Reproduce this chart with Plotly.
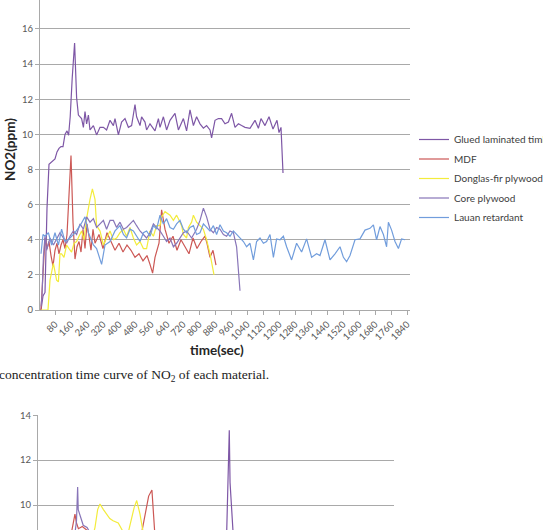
import plotly.graph_objects as go

# ---------------- data: upper chart (NO2) ----------------
names = ["Glued laminated timber", "MDF", "Donglas-fir plywood", "Core plywood", "Lauan retardant"]
colors = ["#7E57A6", "#CC5855", "#F3EC3C", "#8875B8", "#719DDC"]

glt_t = [10, 20, 30, 40, 50, 60, 70, 80, 90, 100, 110, 120, 130, 140, 148, 156, 166, 178, 188, 197,
         213, 222, 230, 238, 247, 255, 272, 288, 305, 322, 338, 355, 372, 380, 397, 413, 430, 447, 463,
         480, 488, 505, 513, 530, 538, 555, 580, 597, 605, 622, 638, 655, 680, 697, 722, 738, 755, 772,
         788, 805, 822, 838, 855, 863, 880, 897, 913, 930, 947, 963, 980, 997, 1013, 1030, 1055, 1080,
         1097, 1110, 1130, 1150, 1170, 1190, 1200, 1210, 1220]
glt_v = [0, 0.8, 1.0, 5.8, 8.3, 8.4, 8.5, 8.6, 9.0, 9.2, 9.3, 9.3, 10.0, 10.2, 9.95, 11.0, 13.2, 15.2, 12.1, 11.1,
         10.9, 10.4, 11.3, 10.6, 11.1, 10.25, 10.5, 9.97, 10.4, 10.4, 10.25, 10.8, 10.5, 10.9, 9.97, 10.7, 10.9, 10.4, 10.5,
         11.7, 11.0, 10.5, 11.0, 10.7, 10.25, 10.6, 10.2, 10.9, 10.4, 11.0, 10.25, 10.8, 11.2, 10.25, 10.9, 10.2, 11.4, 10.5,
         11.0, 10.6, 10.35, 10.5, 10.25, 9.8, 10.8, 10.9, 10.9, 10.6, 10.7, 11.2, 10.4, 10.6, 10.5, 10.4, 10.35, 10.8,
         10.35, 10.9, 10.5, 11.0, 10.3, 10.8, 10.1, 10.4, 7.8]

mdf_t = [10, 20, 30, 40, 50, 60, 70, 80, 90, 100, 110, 120, 130, 140, 150, 160, 170, 180, 190, 200, 210, 220,
         230, 240, 250, 260, 270, 280, 300, 320, 340, 360, 380, 400, 420, 440, 460, 480, 500, 520, 540, 555,
         568, 580, 600, 613, 630, 650, 670, 690, 710, 730, 750, 770, 790, 810, 830, 840, 855, 870, 885]
mdf_v = [0, 2.2, 4.1, 3.5, 3.9, 3.1, 2.5, 3.4, 3.8, 3.2, 3.7, 4.0, 3.5, 4.3, 6.4, 8.8, 5.0, 2.9, 3.6, 3.9, 3.3, 4.6,
         3.5, 4.9, 4.2, 3.4, 4.6, 3.8, 4.3, 3.5, 4.4, 3.9, 3.4, 3.8, 3.3, 3.7, 3.4, 3.0, 3.2, 2.8, 3.1, 2.6,
         2.1, 3.0, 3.8, 5.7, 4.6, 3.8, 4.2, 3.4, 4.0, 3.6, 3.2, 4.1, 3.5, 3.9, 4.2, 3.8, 3.0, 3.4, 2.55]

df_t = [10, 20, 30, 45, 55, 72, 88, 97, 105, 113, 125, 138, 150, 163, 175, 188, 200, 213, 225, 238, 255, 267,
        280, 288, 305, 322, 338, 355, 372, 388, 405, 422, 438, 455, 472, 488, 505, 522, 538, 555, 572, 588,
        605, 613, 630, 655, 672, 688, 697, 713, 722, 738, 747, 763, 772, 788, 805, 822, 838, 855, 875]
df_v = [0, 0, 0, 0, 1.7, 2.65, 1.7, 1.6, 3.2, 3.2, 3.0, 3.7, 3.5, 3.3, 3.8, 3.9, 4.2, 4.5, 4.0, 5.2, 6.3, 6.9,
        6.3, 4.8, 4.5, 3.7, 4.1, 4.5, 4.0, 4.1, 4.4, 4.6, 4.2, 4.7, 4.1, 3.7, 3.9, 3.5, 3.5, 4.5, 4.2, 4.8,
        4.8, 5.3, 5.6, 5.4, 5.1, 5.4, 5.2, 4.8, 4.3, 4.1, 4.7, 5.0, 5.4, 5.0, 4.8, 4.6, 4.0, 3.2, 2.0]

cp_t = [10, 15, 22, 30, 38, 55, 72, 88, 105, 122, 138, 155, 172, 188, 205, 222, 238, 255, 272, 288, 305, 322,
        338, 355, 372, 388, 405, 422, 438, 455, 472, 488, 505, 522, 538, 555, 572, 588, 605, 622, 638, 655,
        672, 688, 705, 722, 738, 763, 788, 805, 822, 838, 855, 872, 888, 905, 922, 938, 955, 972, 988, 1005]
cp_v = [0.2, 0.8, 3.0, 4.2, 3.4, 4.1, 3.7, 4.0, 4.4, 4.1, 3.8, 4.2, 4.5, 4.3, 4.9, 4.6, 5.3, 5.0, 5.2, 4.7, 4.9, 5.1,
        4.6, 5.1, 5.1, 4.7, 5.0, 4.6, 4.7, 4.9, 5.1, 4.8, 4.5, 4.3, 4.1, 4.4, 4.9, 4.7, 4.5, 4.2, 3.9, 4.1,
        3.6, 3.8, 4.1, 4.4, 4.5, 4.1, 4.6, 5.1, 5.8, 5.3, 4.6, 4.4, 4.7, 4.6, 4.3, 4.2, 4.5, 4.4, 3.6, 1.1]

lr_t = [10, 20, 30, 47, 63, 80, 97, 113, 130, 155, 180, 205, 230, 247, 272, 288, 313, 330, 355, 380, 405, 422,
        438, 455, 472, 488, 505, 522, 538, 555, 572, 588, 605, 622, 638, 655, 672, 688, 705, 722, 738, 755,
        772, 788, 805, 822, 838, 855, 872, 888, 905, 922, 938, 955, 972, 988, 1005, 1022, 1038, 1055, 1072,
        1088, 1105, 1122, 1138, 1155, 1172, 1188, 1205, 1222, 1238, 1263, 1288, 1313, 1338, 1363, 1388, 1405,
        1430, 1455, 1480, 1505, 1522, 1538, 1555, 1580, 1605, 1630, 1655, 1672, 1688, 1705, 1722, 1738, 1747,
        1763, 1780, 1797, 1813, 1830]
lr_v = [3.2, 4.3, 4.2, 4.4, 3.7, 4.4, 3.7, 4.6, 3.9, 4.1, 4.4, 4.8, 5.3, 4.4, 3.7, 3.5, 2.6, 3.7, 3.9, 4.5, 4.8, 4.3,
        4.1, 4.6, 4.5, 4.2, 3.9, 4.4, 4.5, 4.2, 4.8, 4.6, 5.4, 4.9, 5.2, 4.7, 4.6, 4.9, 5.1, 4.6, 4.4, 4.7,
        4.8, 4.3, 4.4, 4.9, 4.7, 4.5, 4.8, 4.3, 4.85, 4.5, 4.4, 4.2, 4.5, 4.3, 4.05, 3.9, 3.6, 3.8, 2.85,
        3.9, 4.1, 3.8, 3.9, 4.3, 3.0, 4.05, 4.0, 4.2, 3.6, 2.85, 3.8, 3.3, 4.05, 3.0, 3.2, 3.1,
        4.0, 2.85, 3.2, 3.6, 3.0, 2.75, 3.1, 4.0, 4.05, 4.55, 4.65, 4.85, 4.0, 4.75, 4.3, 3.6, 5.0,
        4.55, 3.9, 3.5, 4.05, 4.0]

x_ticks = list(range(80, 1841, 80))
y_ticks = [0, 2, 4, 6, 8, 10, 12, 14, 16]

# ---------------- data: lower chart (partly visible) ----------------
glt2_t = [985, 995, 999, 1003, 1010, 1020]
glt2_v = [8.6, 11.5, 13.33, 11.0, 9.6, 8.6]
mdf2_t = [175, 190, 197, 205, 215, 235, 255, 275, 300, 540, 560, 580, 597, 605, 613]
mdf2_v = [8.6, 9.4, 9.6, 9.2, 8.95, 9.05, 8.9, 8.8, 8.6, 8.6, 9.5, 10.4, 10.67, 9.6, 8.6]
df2_t = [290, 301, 315, 327, 345, 362, 378, 395, 410, 422, 448, 470, 480, 492, 505, 518, 535, 551, 560]
df2_v = [8.6, 9.0, 9.8, 10.05, 9.8, 9.6, 9.4, 9.3, 9.25, 9.2, 8.8, 8.6, 9.0, 9.4, 9.9, 10.2, 9.6, 8.8, 8.6]
cp2_t = [195, 205, 211, 214, 225, 240, 260, 280]
cp2_v = [8.6, 9.3, 10.8, 9.8, 9.5, 9.1, 9.0, 8.7]
y2_ticks = [10, 12, 14]

W, H = 543, 530
def px_x(p):
    return p / W
def px_y(p):
    return 1 - p / H

fig = go.Figure()
series = [(glt_t, glt_v), (mdf_t, mdf_v), (df_t, df_v), (cp_t, cp_v), (lr_t, lr_v)]
for i, (t, v) in enumerate(series):
    fig.add_trace(go.Scatter(x=t, y=v, mode="lines", name=names[i], legendgroup=names[i],
                             line=dict(color=colors[i], width=1.2), xaxis="x", yaxis="y"))

series2 = [(0, glt2_t, glt2_v), (1, mdf2_t, mdf2_v), (2, df2_t, df2_v), (3, cp2_t, cp2_v)]
for i, t, v in series2:
    fig.add_trace(go.Scatter(x=t, y=v, mode="lines", name=names[i], legendgroup=names[i],
                             showlegend=False, line=dict(color=colors[i], width=1.2),
                             xaxis="x2", yaxis="y2"))

grid = "#A9A9A9"
tickfont = dict(family="Lato", size=9.5, color="#595959")

fig.update_layout(
    width=W, height=H,
    margin=dict(l=0, r=0, t=0, b=0, autoexpand=False),
    paper_bgcolor="white", plot_bgcolor="white",
    showlegend=True,
    legend=dict(x=px_x(414), y=px_y(125), xanchor="left", yanchor="top",
                font=dict(family="Lato", size=10, color="#404040"),
                tracegroupgap=0.5, bgcolor="rgba(0,0,0,0)", itemwidth=30),
    xaxis=dict(domain=[px_x(40), px_x(410)], range=[5, 1855], anchor="y",
               tickmode="array", tickvals=x_ticks, ticktext=[str(v) for v in x_ticks],
               tickangle=-45, ticks="outside", ticklen=4, tickcolor=grid,
               showline=True, linecolor=grid, linewidth=1.3, showgrid=False, zeroline=False,
               tickfont=tickfont),
    yaxis=dict(domain=[px_y(310), 1], range=[0, 17.65], anchor="x",
               tickmode="array", tickvals=y_ticks, ticks="outside", ticklen=4, tickcolor=grid,
               showline=True, linecolor=grid, linewidth=1.3,
               showgrid=True, gridcolor=grid, gridwidth=1.3, zeroline=False,
               tickfont=tickfont),
    xaxis2=dict(domain=[px_x(38), px_x(394)], range=[5, 1855], anchor="y2",
                showticklabels=False, ticks="", showline=False, showgrid=False, zeroline=False),
    yaxis2=dict(domain=[0, px_y(415)], range=[8.89, 14.01], anchor="x2",
                tickmode="array", tickvals=y2_ticks, ticks="outside", ticklen=4, tickcolor=grid,
                showline=True, linecolor=grid, linewidth=1.3,
                showgrid=True, gridcolor=grid, gridwidth=1.3, zeroline=False,
                tickfont=tickfont),
    annotations=[
        dict(text="<b>time(sec)</b>", x=px_x(217), y=px_y(350), xref="paper", yref="paper",
             showarrow=False, xanchor="center", yanchor="middle",
             font=dict(family="Lato", size=13.5, color="#262626")),
        dict(text="<b>NO2(ppm)</b>", x=px_x(10), y=px_y(150), xref="paper", yref="paper",
             showarrow=False, xanchor="center", yanchor="middle", textangle=-90,
             font=dict(family="Lato", size=13.5, color="#262626")),
        dict(text="concentration time curve of NO<sub>2</sub> of each material.",
             x=px_x(-3), y=px_y(375), xref="paper", yref="paper",
             showarrow=False, xanchor="left", yanchor="middle",
             font=dict(family="Liberation Serif", size=13.5, color="#222222")),
    ],
)

fig.write_html("out.html")
